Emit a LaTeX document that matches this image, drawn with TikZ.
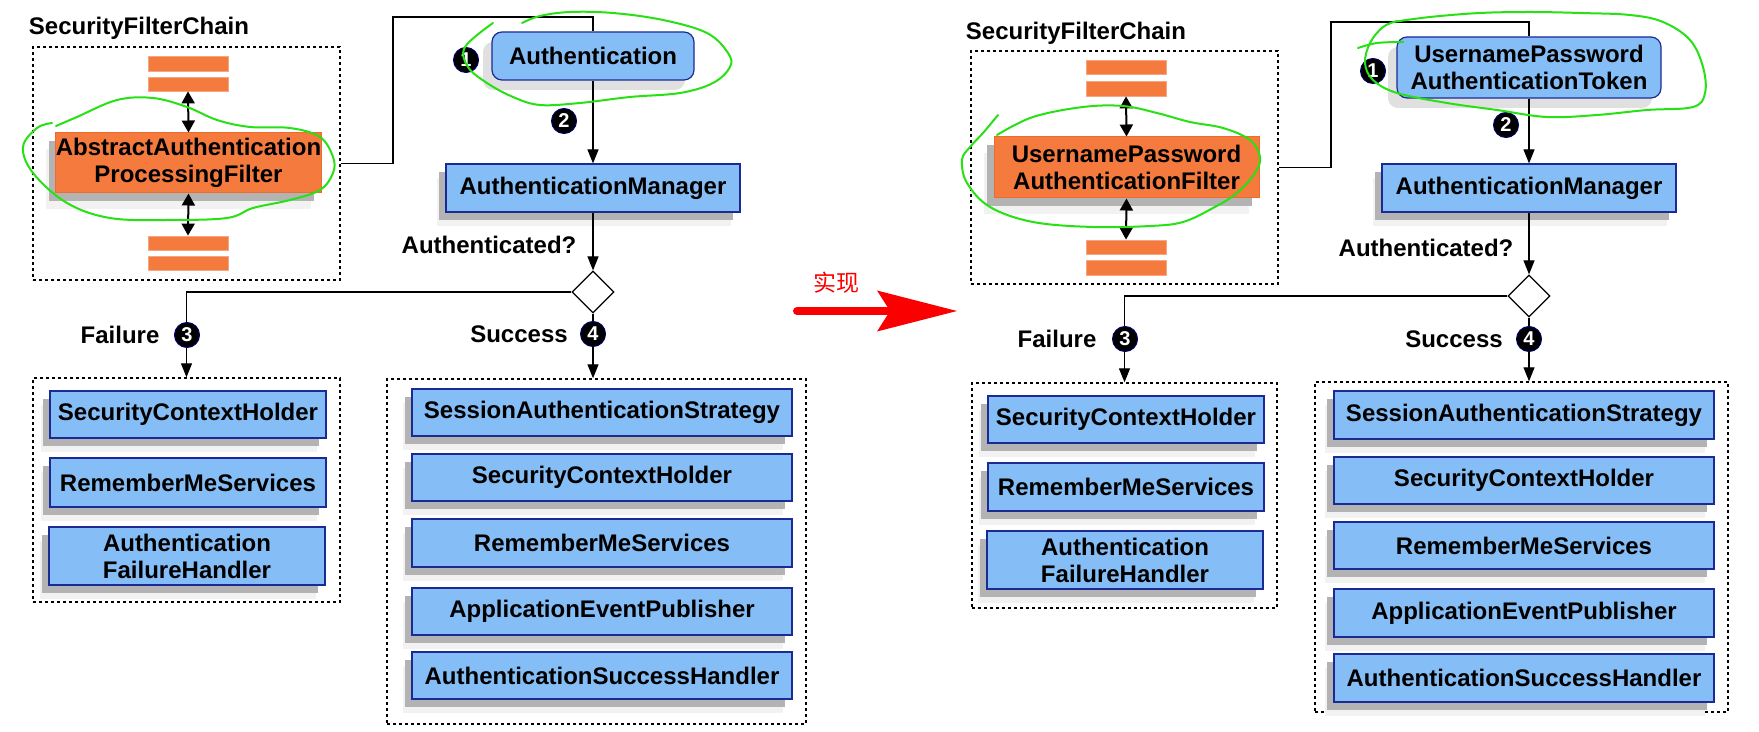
\documentclass[tikz,border=0pt]{standalone}
\usepackage{fontspec}
\setmainfont{Liberation Sans}
\newfontfamily\cjkfont{Noto Sans CJK SC}
\usetikzlibrary{arrows.meta,shapes.geometric,shadows}

\definecolor{boxblue}{RGB}{133,190,246}
\definecolor{boxedge}{RGB}{28,42,150}
\definecolor{filterorange}{RGB}{244,122,61}
\definecolor{filteredge}{RGB}{236,108,48}
\definecolor{shadowgray}{RGB}{179,179,179}
\definecolor{handgreen}{RGB}{40,225,20}
\definecolor{arrowred}{RGB}{250,0,0}

\newcommand\lblfont{\bfseries\fontsize{12}{13.5}\selectfont}
\newcommand\bx[7][]{%
  \pgfmathsetmacro\bxcx{(#3+#5)/2}%
  \pgfmathsetmacro\bxcy{(#4+#6)/2}%
  \pgfmathsetmacro\bxw{(#5-#3)/2}%
  \pgfmathsetmacro\bxh{(#6-#4)/2}%
  \node[#1, minimum width=\bxw pt, minimum height=\bxh pt] (#2) at (\bxcx,\bxcy) {#7};}

\begin{document}
\begin{tikzpicture}[x=0.5pt,y=-0.5pt,
  bluebox/.style={draw=boxedge, line width=0.6pt, fill=boxblue, inner sep=0pt,
    align=center, font=\lblfont,
    drop shadow={shadow xshift=-4.5pt, shadow yshift=-7pt, fill=black!5, opacity=1},
    drop shadow={shadow xshift=-3.5pt, shadow yshift=-4pt, fill=shadowgray, opacity=1}},
  roundbox/.style={draw=boxedge, line width=0.6pt, fill=boxblue, inner sep=0pt,
    align=center, font=\lblfont, rounded corners=5pt,
    drop shadow={shadow xshift=-4.5pt, shadow yshift=-5pt, fill=black!12, opacity=1}},
  orangebox/.style={draw=filteredge, line width=0.5pt, fill=filterorange, inner sep=0pt,
    align=center, font=\lblfont,
    drop shadow={shadow xshift=-5pt, shadow yshift=-8pt, fill=black!5, opacity=1},
    drop shadow={shadow xshift=-3.5pt, shadow yshift=-4pt, fill=shadowgray, opacity=1}},
  bar/.style={draw=filteredge!60!white, line width=0.4pt, fill=filterorange, inner sep=0pt},
  chainbox/.style={draw, dash pattern=on 1.6pt off 1.4pt, line width=0.7pt, inner sep=0pt},
  link/.style={draw, line width=0.6pt},
  flow/.style={draw, line width=0.6pt, -{Triangle[length=7pt,width=5.5pt]}},
  dbl/.style={draw, line width=1pt, {Triangle[length=6pt,width=6.5pt]}-{Triangle[length=6pt,width=6.5pt]}},
  badge/.style={circle, fill=black, draw=black!60!blue, line width=0.5pt, text=white,
    font=\bfseries\fontsize{10}{10}\selectfont, inner sep=0pt, minimum size=12.5pt},
  lbl/.style={font=\lblfont, inner sep=0pt},
  decision/.style={diamond, draw, line width=0.6pt, fill=white, inner sep=0pt,
    minimum width=21pt, minimum height=21pt},
  hand/.style={draw=handgreen, line width=1pt, line cap=round, line join=round},
  redarrow/.style={draw=arrowred, line width=4pt, line cap=round,
    -{Stealth[length=40pt,width=20.5pt,inset=6.5pt,line width=0pt]}}
]
\useasboundingbox (0,0) rectangle (1759,732);
\fill[white] (0,0) rectangle (1759,732);

% ================= LEFT DIAGRAM =================
\node[lbl] (title1) at (139,28) {SecurityFilterChain};
\bx[chainbox]{chain1}{33}{47}{340}{280}{}
\bx[bar]{t1a}{148}{56}{228}{71}{}
\bx[bar]{t1b}{148}{77}{228}{91}{}
\bx[bar]{b1a}{148}{236}{228}{250}{}
\bx[bar]{b1b}{148}{256}{228}{270}{}
\bx[orangebox]{filter1}{56}{133}{321}{193}{AbstractAuthentication\\ProcessingFilter}
\draw[dbl] (t1b.south) -- (filter1.north);
\draw[dbl] (filter1.south) -- (b1a.north);

\bx[roundbox]{auth1}{492}{32}{694}{80}{Authentication}
\bx[bluebox]{am1}{446}{164}{740}{212}{AuthenticationManager}
\node[decision] (d1) at (593,292) {};
\node[lbl] (q1) at (489,245) {Authenticated?};

\bx[chainbox]{fail1}{33}{378}{340}{602}{}
\bx[bluebox]{f1sch}{50}{391}{326}{438}{SecurityContextHolder}
\bx[bluebox]{f1rms}{50}{458}{326}{507}{RememberMeServices}
\bx[bluebox]{f1afh}{49}{527}{325}{585}{Authentication\\FailureHandler}

\bx[chainbox]{succ1}{387}{379}{806}{724}{}
\bx[bluebox]{s1sas}{412}{389}{792}{436}{SessionAuthenticationStrategy}
\bx[bluebox]{s1sch}{412}{454}{792}{501}{SecurityContextHolder}
\bx[bluebox]{s1rms}{412}{519}{792}{567}{RememberMeServices}
\bx[bluebox]{s1aep}{412}{588}{792}{635}{ApplicationEventPublisher}
\bx[bluebox]{s1ash}{412}{652}{792}{699}{AuthenticationSuccessHandler}

\coordinate (j1) at (393,17);
\draw[link] (chain1.east) -| (j1) -| (auth1.north);
\draw[flow] (auth1.south) -- (am1.north);
\draw[flow] (am1.south) -- (d1.north);
\draw[flow] (d1.west) -| (fail1.north);
\draw[flow] (d1.south) -- (d1.south |- succ1.north);

\node[lbl] (fl1) at (120,335) {Failure};
\node[lbl] (sl1) at (519,334) {Success};
\node[badge] (n1a) at (466,60) {1};
\node[badge] (n1b) at (564,121) {2};
\node[badge] (n1c) at (187,335) {3};
\node[badge] (n1d) at (593,334) {4};

% ================= ARROW =================
\coordinate (ra) at (797,311);
\coordinate (rb) at (957,311);
\draw[redarrow] (ra) -- (rb);
\node[text=arrowred, font=\cjkfont\fontsize{11.5}{12}\selectfont, inner sep=0pt] (impl) at (836,283) {实现};

% ================= RIGHT DIAGRAM =================
\node[lbl] (title2) at (1076,33) {SecurityFilterChain};
\bx[chainbox]{chain2}{971}{51}{1278}{284}{}
\bx[bar]{t2a}{1086}{60}{1166}{74}{}
\bx[bar]{t2b}{1086}{81}{1166}{96}{}
\bx[bar]{b2a}{1086}{240}{1166}{254}{}
\bx[bar]{b2b}{1086}{260}{1166}{275}{}
\bx[orangebox]{filter2}{994}{137}{1259}{198}{UsernamePassword\\AuthenticationFilter}
\draw[dbl] (t2b.south) -- (filter2.north);
\draw[dbl] (filter2.south) -- (b2a.north);

\bx[roundbox]{auth2}{1397}{37}{1661}{98}{UsernamePassword\\AuthenticationToken}
\bx[bluebox]{am2}{1382}{164}{1676}{212}{AuthenticationManager}
\node[decision] (d2) at (1529,296) {};
\node[lbl] (q2) at (1426,248) {Authenticated?};

\bx[chainbox]{fail2}{972}{383}{1277}{608}{}
\bx[bluebox]{f2sch}{988}{396}{1264}{443}{SecurityContextHolder}
\bx[bluebox]{f2rms}{988}{463}{1264}{511}{RememberMeServices}
\bx[bluebox]{f2afh}{987}{531}{1263}{589}{Authentication\\FailureHandler}

\bx[chainbox]{succ2}{1315}{382}{1728}{712}{}
\bx[bluebox]{s2sas}{1334}{391}{1714}{439}{SessionAuthenticationStrategy}
\bx[bluebox]{s2sch}{1334}{457}{1714}{504}{SecurityContextHolder}
\bx[bluebox]{s2rms}{1334}{522}{1714}{569}{RememberMeServices}
\bx[bluebox]{s2aep}{1334}{589}{1714}{637}{ApplicationEventPublisher}
\bx[bluebox]{s2ash}{1334}{654}{1714}{702}{AuthenticationSuccessHandler}

\coordinate (j2) at (1331,22);
\draw[link] (chain2.east) -| (j2) -| (auth2.north);
\draw[flow] (auth2.south) -- (am2.north);
\draw[flow] (am2.south) -- (d2.north);
\draw[flow] (d2.west) -| (fail2.north);
\draw[flow] (d2.south) -- (d2.south |- succ2.north);

\node[lbl] (fl2) at (1057,339) {Failure};
\node[lbl] (sl2) at (1454,339) {Success};
\node[badge] (n2a) at (1373,71) {1};
\node[badge] (n2b) at (1506,125) {2};
\node[badge] (n2c) at (1125,339) {3};
\node[badge] (n2d) at (1529,339) {4};

% ================= HAND-DRAWN GREEN MARKS =================
\draw[hand] plot[smooth, tension=0.6] coordinates {(56,126) (77,117) (117,100) (153,98) (187,107) (217,120) (250,127) (290,128) (320,137) (333,157) (333,173) (320,190) (290,200) (253,208) (227,218) (167,220) (110,218) (67,203) (33,173) (23,147) (37,128) (52,123)};
\draw[hand] plot[smooth, tension=0.6] coordinates {(493,23) (465,47) (468,67) (487,83) (513,97) (540,105) (580,103) (630,97) (680,93) (713,83) (730,67) (728,53) (707,33) (663,20) (613,13) (570,12) (540,16) (522,23)};
\draw[hand] plot[smooth, tension=0.6] coordinates {(997,135) (1033,117) (1083,107) (1123,106) (1157,113) (1190,122) (1223,128) (1250,140) (1260,157) (1255,173) (1237,193) (1213,208) (1183,222) (1150,226) (1093,227) (1033,222) (990,207) (967,183) (962,160) (970,147) (983,133) (998,115)};
\draw[hand] plot[smooth, tension=0.6] coordinates {(1393,22) (1430,17) (1480,13) (1530,12) (1580,13) (1630,15) (1663,22) (1690,40) (1703,67) (1705,93) (1693,107) (1647,110) (1597,115) (1547,117) (1497,110) (1447,103) (1397,93) (1373,80) (1365,63) (1370,43) (1383,27) (1397,21)};
\draw[hand] plot[smooth, tension=0.6] coordinates {(1358,48) (1377,43) (1403,42)};
\end{tikzpicture}
\end{document}
